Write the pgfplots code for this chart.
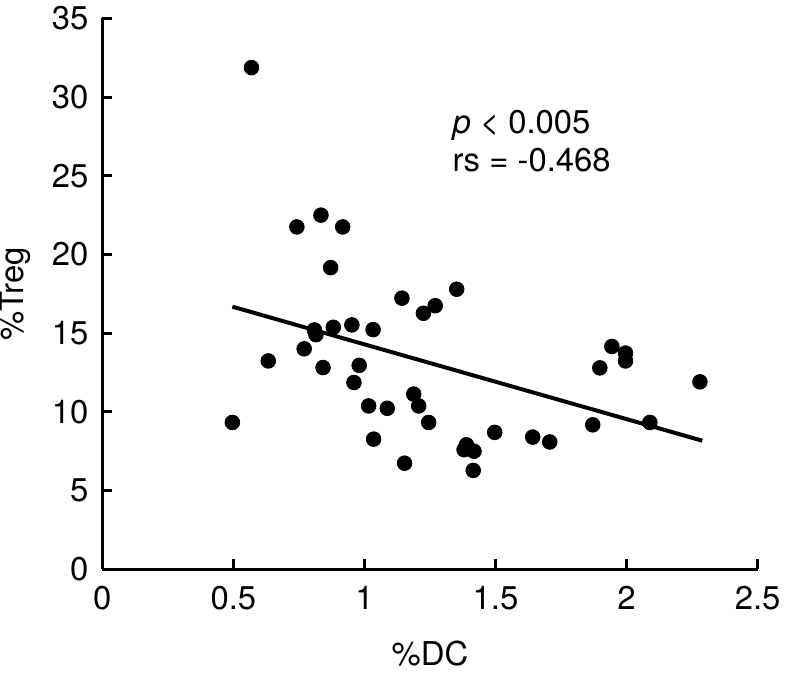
\documentclass[border=0pt]{standalone}
\usepackage{fontspec}
\setmainfont{TeX Gyre Heros}
\usepackage{pgfplots}
\pgfplotsset{compat=1.18}
\begin{document}
\begin{tikzpicture}
\begin{axis}[
  scale only axis,
  width=330bp, height=277.3bp,
  xmin=0, xmax=2.5, ymin=0, ymax=35,
  axis x line*=bottom, axis y line*=left,
  xtick={0,0.5,1,1.5,2,2.5},
  ytick={0,5,10,15,20,25,30,35},
  tick align=inside,
  major tick length=5bp,
  axis line style={line width=1.5bp, black},
  every tick/.style={line width=1.5bp, black},
  /pgf/number format/assume math mode=true,
  tick label style={font=\fontsize{16.6}{19}\selectfont},
  xticklabel style={yshift=-5bp},
  yticklabel style={xshift=-3.5bp},
  xlabel={\%DC},
  label style={font=\fontsize{16.6}{19}\selectfont},
  xlabel style={at={(axis description cs:0.5,0)}, anchor=north, yshift=-32.7bp},
  clip=false,
]
\addplot[only marks, mark=*, mark size=3.7bp, mark options={fill=black, draw=black}] coordinates {
(0.496,9.32) (0.569,31.88) (0.742,21.75) (0.834,22.5) (0.917,21.75)
(0.871,19.16) (1.143,17.22) (1.352,17.79) (1.225,16.26) (1.27,16.74)
(0.809,15.2) (0.815,14.9) (0.881,15.37) (0.952,15.52) (1.033,15.22)
(0.633,13.23) (0.770,14.0) (0.842,12.81) (0.98,12.95) (0.96,11.86)
(1.016,10.37) (1.087,10.22) (1.035,8.26) (1.153,6.73) (1.188,11.12)
(1.207,10.37) (1.245,9.32) (1.389,7.9) (1.38,7.59) (1.418,7.49)
(1.415,6.27) (1.497,8.69) (1.642,8.39) (1.707,8.08) (1.871,9.17)
(1.898,12.79) (1.944,14.15) (1.996,13.73) (1.996,13.23) (2.089,9.32)
(2.28,11.9)
};
\addplot[line width=2bp, black] coordinates {(0.496,16.68) (2.289,8.16)};
\node[anchor=base west, font=\fontsize{16.6}{19}\selectfont, inner sep=0pt] at (axis cs:1.335,27.7) {\textit{p} < 0.005};
\node[anchor=base west, font=\fontsize{16.6}{19}\selectfont, inner sep=0pt] at (axis cs:1.335,25.3) {rs = -0.468};
\node[rotate=90, anchor=base, inner sep=0pt, font=\fontsize{16.6}{19}\selectfont] at ([xshift=-39.5bp]rel axis cs:0,0.5) {\%Treg};
\end{axis}
\end{tikzpicture}
\end{document}
